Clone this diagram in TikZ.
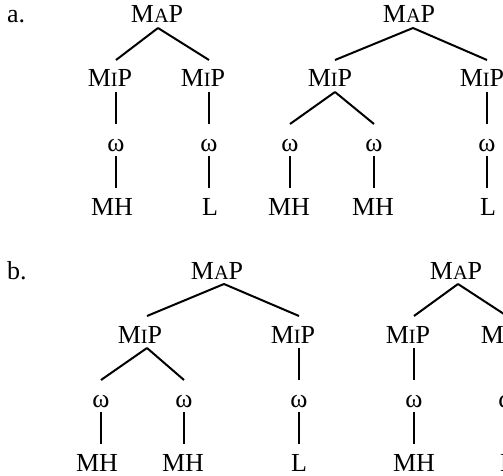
\documentclass[tikz,border=0pt]{standalone}
\usepackage{fontspec}
\setmainfont{Liberation Serif}
% fake small capitals for the category labels
\newcommand\smc[1]{{\fontsize{20.3pt}{20.3pt}\selectfont #1}}
\newcommand\MaP{M\smc{A}P}
\newcommand\MiP{M\smc{I}P}

\begin{document}
\begin{tikzpicture}[x=1pt,y=-1pt,
  lab/.style={font=\fontsize{26pt}{26pt}\selectfont, inner sep=0pt, outer sep=0pt,
              text height=27pt, text depth=5pt, anchor=base},
  tag/.style={font=\fontsize{26pt}{26pt}\selectfont, inner sep=0pt, anchor=base west},
  br/.style={line width=2pt}]
\useasboundingbox (0,0) rectangle (503,476);
\clip (0,0) rectangle (503,476);

% ---------- (a) ----------
\node[tag] (la) at (7,23) {a.};

% first tree
\node[lab] (a1top) at (157,23) {\MaP};
\node[lab] (a1p1) at (110,87) {\MiP};
\node[lab] (a1w1) at (116,151) {ω};
\node[lab] (a1l1) at (112,215) {MH};
\node[lab] (a1p2) at (203,87) {\MiP};
\node[lab] (a1w2) at (209,151) {ω};
\node[lab] (a1l2) at (210,215) {L};
\draw[br] ([xshift=1pt]a1top.south) -- (a1p1.north -| a1w1)
          ([xshift=1pt]a1top.south) -- (a1p2.north -| a1w2);
\draw[br] (a1p1.south -| a1w1) -- (a1w1.north) (a1w1.south) -- (a1l1.north -| a1w1);
\draw[br] (a1p2.south -| a1w2) -- (a1w2.north) (a1w2.south) -- (a1l2.north -| a1w2);

% second tree
\node[lab] (a2top) at (409,23) {\MaP};
\node[lab] (a2p1) at (330,87) {\MiP};
\node[lab] (a2w1) at (290,151) {ω};
\node[lab] (a2l1) at (289,215) {MH};
\node[lab] (a2w2) at (374,151) {ω};
\node[lab] (a2l2) at (373,215) {MH};
\node[lab] (a2p2) at (482,87) {\MiP};
\node[lab] (a2w3) at (487,151) {ω};
\node[lab] (a2l3) at (488,215) {L};
\draw[br] ([xshift=4pt]a2top.south) -- ([xshift=5pt]a2p1.north)
          ([xshift=4pt]a2top.south) -- (a2p2.north -| a2w3);
\draw[br] ([xshift=5pt]a2p1.south) -- (a2w1.north)
          ([xshift=5pt]a2p1.south) -- (a2w2.north);
\draw[br] (a2w1.south) -- (a2l1.north -| a2w1) (a2w2.south) -- (a2l2.north -| a2w2);
\draw[br] (a2p2.south -| a2w3) -- (a2w3.north) (a2w3.south) -- (a2l3.north -| a2w3);

% ---------- (b) ----------
\node[tag] (lb) at (7,279) {b.};

% first tree
\node[lab] (b1top) at (217,279) {\MaP};
\node[lab] (b1p1) at (140,343) {\MiP};
\node[lab] (b1w1) at (101,407) {ω};
\node[lab] (b1l1) at (97,471) {MH};
\node[lab] (b1w2) at (184,407) {ω};
\node[lab] (b1l2) at (183,471) {MH};
\node[lab] (b1p2) at (293,343) {\MiP};
\node[lab] (b1w3) at (299,407) {ω};
\node[lab] (b1l3) at (299,471) {L};
\draw[br] ([xshift=7pt]b1top.south) -- ([xshift=7pt]b1p1.north)
          ([xshift=7pt]b1top.south) -- (b1p2.north -| b1w3);
\draw[br] ([xshift=7pt]b1p1.south) -- (b1w1.north)
          ([xshift=7pt]b1p1.south) -- (b1w2.north);
\draw[br] (b1w1.south) -- (b1l1.north -| b1w1) (b1w2.south) -- (b1l2.north -| b1w2);
\draw[br] (b1p2.south -| b1w3) -- (b1w3.north) (b1w3.south) -- (b1l3.north -| b1w3);

% second tree
\node[lab] (b2top) at (456,279) {\MaP};
\node[lab] (b2p1) at (408,343) {\MiP};
\node[lab] (b2w1) at (414,407) {ω};
\node[lab] (b2l1) at (414,471) {MH};
\node[lab] (b2p2) at (503,343) {\MiP};
\node[lab] (b2w2) at (507,407) {ω};
\node[lab] (b2l2) at (508,471) {L};
\draw[br] ([xshift=2pt]b2top.south) -- (b2p1.north -| b2w1)
          ([xshift=2pt]b2top.south) -- (b2p2.north -| b2w2);
\draw[br] (b2p1.south -| b2w1) -- (b2w1.north) (b2w1.south) -- (b2l1.north -| b2w1);
\draw[br] (b2p2.south -| b2w2) -- (b2w2.north) (b2w2.south) -- (b2l2.north -| b2w2);
\end{tikzpicture}
\end{document}
